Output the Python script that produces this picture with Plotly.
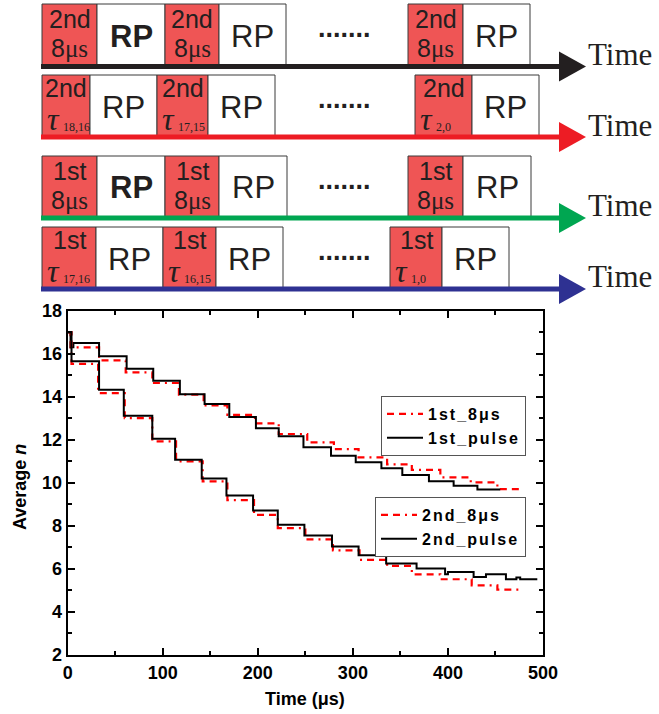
import plotly.graph_objects as go

W, H = 659, 714

# ---------------- data ----------------
t_1st_8us = [0, 3, 33, 61, 89, 117, 143, 168, 197, 222, 252, 280, 306, 336, 362, 392, 424, 452, 476]
n_1st_8us = [17.0, 16.3, 15.69, 15.13, 14.64, 14.1, 13.6, 13.16, 12.76, 12.27, 11.88, 11.57, 11.18, 10.86,
             10.6, 10.25, 10.02, 9.71, 9.71]

t_1st_pulse = [0, 3, 6, 33, 62, 90, 118, 144, 170, 198, 222, 248, 277, 303, 330, 352, 380, 406, 431, 455]
n_1st_pulse = [17.0, 16.3, 16.5, 15.88, 15.3, 14.74, 14.12, 13.66, 13.06, 12.54, 12.16, 11.66, 11.26, 10.96,
               10.68, 10.36, 10.08, 9.86, 9.69, 9.69]

t_2nd_8us = [0, 4, 32, 60, 89, 114, 142, 168, 196, 221, 250, 279, 307, 336, 362, 392, 425, 452, 476]
n_2nd_8us = [17.0, 15.53, 14.17, 13.01, 11.93, 11.0, 10.07, 9.2, 8.51, 7.9, 7.37, 6.86, 6.42, 6.14, 5.75,
             5.52, 5.24, 5.04, 5.04]

t_2nd_pulse = [0, 4, 33, 59, 89, 113, 141, 167, 195, 221, 249, 278, 306, 335, 367, 397, 400, 427, 440, 461,
               472, 476, 494]
n_2nd_pulse = [17.0, 15.65, 14.33, 13.12, 12.05, 11.07, 10.2, 9.41, 8.72, 8.05, 7.55, 7.04, 6.64, 6.25, 6.02,
               5.75, 5.86, 5.63, 5.75, 5.52, 5.6, 5.52, 5.52]

x_ticks = [0, 100, 200, 300, 400, 500]
y_ticks = [2, 4, 6, 8, 10, 12, 14, 16, 18]

series_names = ["1st_8\u03bcs", "1st_pulse", "2nd_8\u03bcs", "2nd_pulse"]

# ---------------- figure ----------------
RED = "#FF0000"
DASH = "7px,5px,7px,5px,2px,5px"


def spaced(s):
    return f"<span style='letter-spacing:2px'>{s}</span>"


fig = go.Figure()
fig.add_trace(go.Scatter(x=t_1st_8us, y=n_1st_8us, name=spaced(series_names[0]), mode="lines",
                         line_shape="hv", line=dict(color=RED, width=2.2, dash=DASH), legend="legend"))
fig.add_trace(go.Scatter(x=t_1st_pulse, y=n_1st_pulse, name=spaced(series_names[1]), mode="lines",
                         line_shape="hv", line=dict(color="black", width=2), legend="legend"))
fig.add_trace(go.Scatter(x=t_2nd_8us, y=n_2nd_8us, name=spaced(series_names[2]), mode="lines",
                         line_shape="hv", line=dict(color=RED, width=2.2, dash=DASH), legend="legend2"))
fig.add_trace(go.Scatter(x=t_2nd_pulse, y=n_2nd_pulse, name=spaced(series_names[3]), mode="lines",
                         line_shape="hv", line=dict(color="black", width=2), legend="legend2"))

SANS = "Liberation Sans"
SERIF = "Liberation Serif"
INK = "#231F20"

shapes = []
annotations = []


def rect(x0, y0, x1, y1, fill):
    shapes.append(dict(type="rect", xref="paper", yref="paper", x0=x0 / W, x1=x1 / W,
                       y0=1 - y1 / H, y1=1 - y0 / H, fillcolor=fill,
                       line=dict(color="#3a3a3a", width=1)))


def text(x, y, s, size, family=SANS, bold=False, xanchor="center", color=INK):
    annotations.append(dict(xref="paper", yref="paper", x=x / W, y=1 - y / H, text=s, showarrow=False,
                            font=dict(size=size, family=family, color=color,
                                      weight="bold" if bold else "normal"),
                            xanchor=xanchor, yanchor="middle"))


rows = [
    dict(top=4, base=66.5, color="#231F20", label="2nd", kind="8us", bold_first=True,
         boxes=[(42, 97, 165), (165, 219, 286), (408, 463, 530)]),
    dict(top=75, base=137, color="#ED1C24", label="2nd", kind="tau", subs=["18,16", "17,15", "2,0"],
         boxes=[(42, 90, 157), (157, 208, 275), (415, 472, 539)]),
    dict(top=156, base=218, color="#00A651", label="1st", kind="8us", bold_first=True,
         boxes=[(42, 97, 165), (165, 219, 287), (408, 463, 531)]),
    dict(top=227, base=289, color="#2E3192", label="1st", kind="tau", subs=["17,16", "16,15", "1,0"],
         boxes=[(42, 96, 163), (163, 216, 283), (390, 442, 509)]),
]

for r in rows:
    top, base = r["top"], r["base"]
    for i, (a, b, c) in enumerate(r["boxes"]):
        rect(a, top, b, base, "#EF5555")
        rect(b, top, c, base, "white")
        text((b + c) / 2, top + 32, "RP", 31, bold=(r.get("bold_first") and i == 0))
        if r["kind"] == "8us":
            text((a + b) / 2, top + 15, r["label"], 25)
            text((a + b) / 2, top + 44,
                 "8<span style='font-family:Liberation Serif'>\u03bcs</span>", 25)
        else:
            text((a + b) / 2, top + 13, r["label"], 25)
            text(a + 3, top + 44, "<i>\u03c4</i>", 32, family=SERIF, xanchor="left")
            text(a + 19, top + 52, r["subs"][i], 12, family=SERIF, xanchor="left")
    # dots
    text(344, top + 24, ".......", 27, bold=True)
    # time line and arrow
    shapes.append(dict(type="line", xref="paper", yref="paper", x0=41 / W, x1=566 / W,
                       y0=1 - base / H, y1=1 - base / H, line=dict(color=r["color"], width=5)))
    shapes.append(dict(type="path", xref="paper", yref="paper",
                       path=f"M {559 / W} {1 - (base - 15) / H} L {586 / W} {1 - base / H} "
                            f"L {559 / W} {1 - (base + 15) / H} Z",
                       fillcolor=r["color"], line=dict(color=r["color"], width=0)))
    text(586, base - 12, "Time", 31, family=SERIF, xanchor="left")

# axis titles
text(305, 699, "Time (\u03bcs)", 18, bold=True, color="black")
annotations.append(dict(xref="paper", yref="paper", x=20 / W, y=1 - 487 / H, text="Average <i>n</i>",
                        showarrow=False, textangle=-90,
                        font=dict(size=18, family=SANS, color="black", weight="bold"),
                        xanchor="center", yanchor="middle"))

axis_common = dict(showgrid=False, zeroline=False, showline=True, linecolor="black", linewidth=2,
                   mirror="allticks", ticks="inside", ticklen=7, tickwidth=2, tickcolor="black",
                   automargin=False,
                   tickfont=dict(size=18, family=SANS, color="black", weight="bold"))

legend_common = dict(xanchor="left", yanchor="top", bgcolor="white", bordercolor="#555", borderwidth=1,
                     font=dict(size=16, family=SANS, color="black", weight="bold"),
                     itemwidth=36, tracegroupgap=0)

fig.update_layout(
    template="none",
    width=W, height=H, margin=dict(l=0, r=0, t=0, b=0, autoexpand=False),
    paper_bgcolor="white", plot_bgcolor="white",
    showlegend=True,
    xaxis=dict(domain=[67.7 / W, 543 / W], range=[0, 500], tickmode="array", tickvals=x_ticks,
               minor=dict(dtick=50, tick0=0, ticks="inside", ticklen=4, tickwidth=1.5, tickcolor="black"),
               **axis_common),
    yaxis=dict(domain=[1 - 655 / H, 1 - 310.7 / H], range=[2, 18], tickmode="array", tickvals=y_ticks,
               minor=dict(dtick=1, tick0=0, ticks="inside", ticklen=4, tickwidth=1.5, tickcolor="black"),
               **axis_common),
    legend=dict(x=381 / W, y=1 - 396 / H, **legend_common),
    legend2=dict(x=375 / W, y=1 - 497 / H, **legend_common),
    shapes=shapes,
    annotations=annotations,
)

fig.write_html("out.html", config={"displayModeBar": False},
               post_script="document.body.style.margin='0px';")
